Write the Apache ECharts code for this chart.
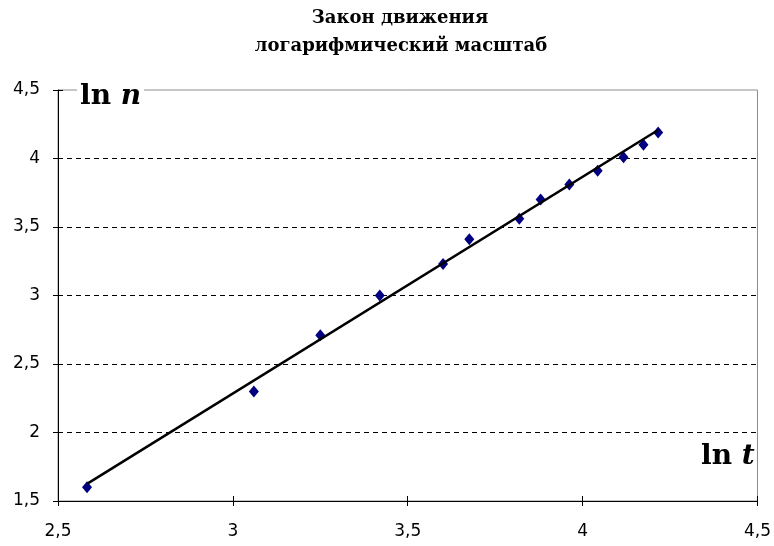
<!DOCTYPE html>
<html>
<head>
<meta charset="utf-8">
<script src="https://cdn.jsdelivr.net/npm/echarts@6/dist/echarts.min.js"></script>
<style>
  html, body { margin: 0; padding: 0; background: #fff; }
  #chart { width: 774px; height: 546px; }
</style>
</head>
<body>
<div id="chart"></div>
<script>
// Measured points: ln t against ln n
const lnT = [2.583, 3.060, 3.250, 3.420, 3.601, 3.676, 3.819, 3.880, 3.962, 4.043, 4.117, 4.174, 4.216];
const lnN = [1.60, 2.30, 2.71, 3.00, 3.23, 3.41, 3.56, 3.70, 3.81, 3.91, 4.01, 4.10, 4.19];

// Linear trend line end points
const trendT = [2.583, 4.216];
const trendN = [1.625, 4.208];

// Axis ranges
const xRange = [2.5, 4.5];
const yRange = [1.5, 4.5];
const step = 0.5;

const titleLines = ['Закон движения', 'логарифмический масштаб'];

const commaFmt = v => String(v).replace('.', ',');

const chart = echarts.init(document.getElementById('chart'), null, { renderer: 'canvas' });

const tickFont = { color: '#000', fontFamily: 'DejaVu Sans', fontSize: 17, formatter: commaFmt };

const axisBase = {
  type: 'value',
  interval: step,
  axisLine: { show: true, onZero: false, lineStyle: { color: '#000', width: 1 } },
  axisTick: { show: true, length: 5, lineStyle: { color: '#000', width: 1 } },
  splitLine: { show: false }
};

// Companion axes drawing the inner half of each tick
const innerTicks = {
  type: 'value',
  interval: step,
  axisLine: { show: false },
  axisTick: { show: true, inside: true, length: 5, lineStyle: { color: '#000', width: 1 } },
  axisLabel: { show: false },
  splitLine: { show: false }
};

const serifBold = { fontFamily: 'DejaVu Serif', fontWeight: 'bold', fontSize: 28, fill: '#000' };
const serifBoldItalic = Object.assign({}, serifBold, { fontStyle: 'italic' });

const titleStyle = { fontFamily: 'DejaVu Serif', fontWeight: 'bold', fontSize: 18, fill: '#000', align: 'center', verticalAlign: 'middle' };

chart.setOption({
  backgroundColor: '#fff',
  animation: false,
  grid: {
    left: 58, right: 15, top: 90, bottom: 45,
    show: true,
    borderColor: '#8c8c8c',
    borderWidth: 1,
    backgroundColor: 'transparent'
  },
  xAxis: [
    Object.assign({}, axisBase, {
      min: xRange[0], max: xRange[1], position: 'bottom',
      axisLabel: Object.assign({}, tickFont, { margin: 22 })
    }),
    Object.assign({}, innerTicks, { min: xRange[0], max: xRange[1], position: 'bottom' })
  ],
  yAxis: [
    Object.assign({}, axisBase, {
      min: yRange[0], max: yRange[1], position: 'left',
      axisLabel: Object.assign({}, tickFont, { margin: 18 }),
      splitLine: {
        show: true, showMinLine: false, showMaxLine: false,
        lineStyle: { color: '#000', width: 1, type: [5, 4] }
      }
    }),
    Object.assign({}, innerTicks, { min: yRange[0], max: yRange[1], position: 'left' })
  ],
  graphic: [
    // Chart title, two lines
    { type: 'text', z: 100, x: 400, y: 18, style: Object.assign({ text: titleLines[0] }, titleStyle) },
    { type: 'text', z: 100, x: 401, y: 46, style: Object.assign({ text: titleLines[1] }, titleStyle) },
    // Axis captions
    {
      type: 'text', z: 100, left: 77, top: 83,
      style: {
        text: '{a|ln }{b|n}',
        backgroundColor: '#fff',
        padding: [0, 3, 0, 3],
        rich: { a: serifBold, b: serifBoldItalic }
      }
    },
    {
      type: 'text', z: 100, left: 701, top: 443,
      style: {
        text: '{a|ln }{b|t}',
        rich: { a: serifBold, b: serifBoldItalic }
      }
    }
  ],
  series: [
    {
      type: 'scatter',
      data: lnT.map((t, i) => [t, lnN[i]]),
      symbol: 'diamond',
      symbolSize: [10, 12],
      itemStyle: { color: '#000080', opacity: 1 },
      z: 2
    },
    {
      type: 'line',
      data: trendT.map((t, i) => [t, trendN[i]]),
      showSymbol: false,
      symbol: 'none',
      lineStyle: { color: '#000', width: 2.5 },
      z: 3
    }
  ]
});
</script>
</body>
</html>
